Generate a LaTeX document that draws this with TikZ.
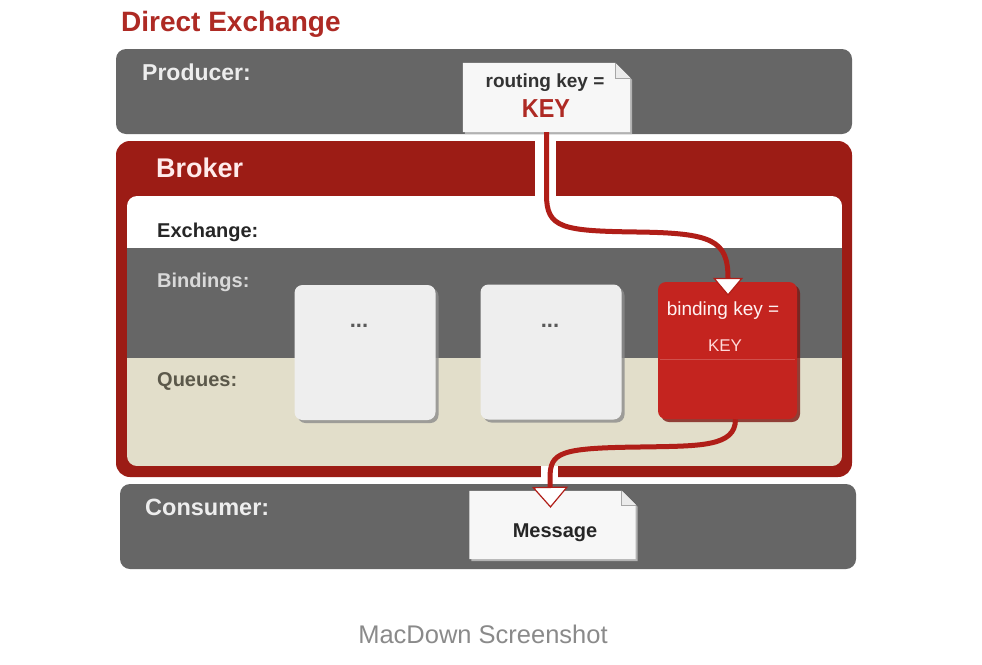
\documentclass[tikz,border=0pt]{standalone}
\usepackage{fontspec}
\setmainfont{Liberation Sans}
\usepackage{graphicx}
\usetikzlibrary{arrows.meta,shadows,calc}
\definecolor{titlered}{HTML}{AE2A24}
\definecolor{bandgrey}{HTML}{666666}
\definecolor{brokerred}{HTML}{9C1C15}
\definecolor{beige}{HTML}{E2DECA}
\definecolor{qfill}{HTML}{EEEEEE}
\definecolor{boxred}{HTML}{C4241F}
\definecolor{linered}{HTML}{B01E18}
\definecolor{capgrey}{HTML}{8A8A8A}
\definecolor{notefill}{HTML}{F7F7F7}
\pgfdeclarelayer{back}
\pgfdeclarelayer{mid}
\pgfsetlayers{back,mid,main}
\tikzset{
  band/.style={fill=bandgrey, rounded corners=10pt, inner sep=0pt},
  lbl/.style={anchor=base west, inner sep=0pt},
  qbox/.style={fill=qfill, rounded corners=8pt, inner sep=0pt, minimum width=141pt, minimum height=135pt,
    drop shadow={shadow xshift=3pt, shadow yshift=-3pt, fill=black!45, opacity=0.8}},
  rbox/.style={fill=boxred, rounded corners=8pt, inner sep=0pt, minimum width=139pt, minimum height=137pt,
    drop shadow={shadow xshift=3pt, shadow yshift=-3pt, fill=brokerred!80!black, opacity=0.8}},
  notebox/.style={inner sep=0pt},
  conn/.style={draw=linered, line width=5pt},
}
\begin{document}
\begin{tikzpicture}[x=1pt,y=-1pt]
\useasboundingbox (0,0) rectangle (982,664);
\begin{pgfonlayer}{back}
\fill[white] (0,0) rectangle (982,664);
% bands
\node[band, minimum width=736pt, minimum height=85pt] (producer) at (484,91.5) {};
\node[fill=brokerred, rounded corners=14pt, inner sep=0pt, minimum width=736pt, minimum height=336pt] (broker) at (484,309) {};
\begin{scope}
\clip[rounded corners=10pt] (127,196) rectangle (842,466);
\fill[white] (127,196) rectangle (842,248);
\fill[bandgrey] (127,248) rectangle (842,358);
\fill[beige] (127,358) rectangle (842,466);
\end{scope}
\node[band, minimum width=736pt, minimum height=85pt] (consumer) at (488,526.5) {};
% gaps in broker border where the connectors pass
\fill[white] (535,141) rectangle (556,196);
\fill[white] (541,466) rectangle (558,478);
\end{pgfonlayer}

% labels
\node[lbl, text=titlered, font=\bfseries\fontsize{28}{28}\selectfont] (title) at (121,31) {Direct Exchange};
\node[lbl, text=white!93!black, font=\bfseries\fontsize{23}{23}\selectfont] (prodl) at (142,80) {Producer:};
\node[lbl, text=white!92!red, font=\bfseries\fontsize{27}{27}\selectfont] (brokl) at (156,177) {Broker};
\node[lbl, text=black!85, font=\bfseries\fontsize{20}{20}\selectfont] (exl) at (157,237) {Exchange:};
\node[lbl, text=black!15, font=\bfseries\fontsize{20}{20}\selectfont] (bindl) at (157,287) {Bindings:};
\node[lbl, text={rgb,255:red,91;green,88;blue,74}, font=\bfseries\fontsize{20}{20}\selectfont] (ql) at (157,386) {Queues:};
\node[lbl, text=white!93!black, font=\bfseries\fontsize{23.5}{23.5}\selectfont] (consl) at (145,515) {Consumer:};
\node[anchor=base, inner sep=0pt, text=capgrey, font=\fontsize{25.5}{25.5}\selectfont] (caption) at (483,643) {MacDown Screenshot};

% queue boxes
\node[qbox] (q1) at (365,352.5) {};
\node[qbox] (q2) at (551,352) {};
\node[rbox] (bk) at (727.5,350.5) {};
\node[anchor=base, inner sep=0pt, text=black!65, font=\bfseries\fontsize{22}{22}\selectfont] (q1d) at (359,327) {...};
\node[anchor=base, inner sep=0pt, text=black!65, font=\bfseries\fontsize{22}{22}\selectfont] (q2d) at (550,327) {...};
\draw[boxred!80!white, line width=0.6pt] ($(bk.west |- 0,359)+(2,0)$) -- ($(bk.east |- 0,359)+(-2,0)$);
\node[anchor=base, inner sep=0pt, text=white!95!red, font=\fontsize{19}{19}\selectfont] (bkt) at (723,315) {binding key =};
\node[anchor=base, inner sep=0pt, text=white!85!red, font=\fontsize{17}{17}\selectfont] (bkk) at (725,351) {KEY};

% notes
\node[notebox, minimum width=167pt, minimum height=69pt] (rk) at (546.5,97.5) {};
\node[notebox, minimum width=166pt, minimum height=68pt] (msg) at (552.5,525) {};
\begin{pgfonlayer}{mid}
\foreach \n/\f in {rk/15,msg/14}{
  \fill[black!30] ($(\n.north west)+(2,2)$) -- ($(\n.north east)+(2-\f,2)$) -- ($(\n.north east)+(2,2+\f)$) -- ($(\n.south east)+(2,2)$) -- ($(\n.south west)+(2,2)$) -- cycle;
  \fill[notefill] (\n.north west) -- ($(\n.north east)+(-\f,0)$) -- ($(\n.north east)+(0,\f)$) -- (\n.south east) -- (\n.south west) -- cycle;
  \draw[black!35, fill=black!8, line width=0.6pt] ($(\n.north east)+(-\f,0)$) -- ($(\n.north east)+(-\f,\f)$) -- ($(\n.north east)+(0,\f)$);
}
\end{pgfonlayer}
\node[anchor=base, inner sep=0pt, text=black!80, font=\bfseries\fontsize{19}{19}\selectfont] (rkt) at (545,87) {routing key =};
\node[anchor=base, inner sep=0pt, text=titlered, font=\bfseries\fontsize{26}{26}\selectfont] (rkk) at (546,117) {\scalebox{0.9}[1]{KEY}};
\node[anchor=base, inner sep=0pt, text=black!85, font=\bfseries\fontsize{20}{20}\selectfont] (msgt) at (555,537) {Message};

% connectors
\draw[conn, -{Triangle[width=30pt,length=18pt,fill=white,line width=1.2pt]}]
  (rk.south) -- (546.5,195) .. controls (546.5,228) and (562,231) .. (637,232)
  .. controls (712,233) and (728,240) .. ($(bk.north)+(0.5,14)$);
\draw[conn, -{Triangle[width=36pt,length=21pt,fill=white,line width=1.2pt]}]
  ($(bk.south)+(8,0)$) .. controls (735.5,447) and (700,446) .. (640,447)
  .. controls (560,448) and (550,452) .. (550,478) -- ($(msg.north)+(-2,17)$);
\end{tikzpicture}
\end{document}
